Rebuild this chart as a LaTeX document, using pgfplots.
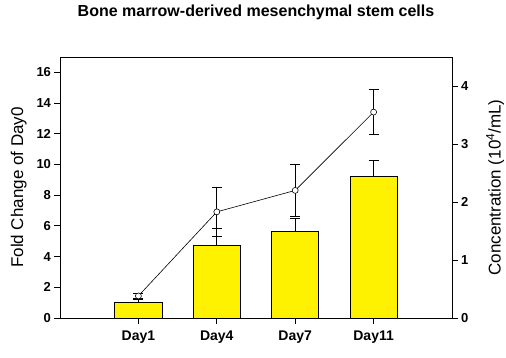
\documentclass[border=0pt]{standalone}
\usepackage{pgfplots}
\pgfplotsset{compat=1.18}
\usepackage{fontspec}
\setmainfont{Liberation Sans}
\begin{document}
\begin{tikzpicture}[x=1pt,y=1pt]
\useasboundingbox (0,0) rectangle (506,357);
\node[font=\bfseries\fontsize{16}{16}\selectfont] at (256,345) {Bone marrow-derived mesenchymal stem cells};
\begin{axis}[
  at={(60pt,39pt)}, anchor=south west, scale only axis,
  width=392pt, height=261pt,
  xmin=0, xmax=5, ymin=0, ymax=17,
  xtick={1,2,3,4}, xticklabels={Day1,Day4,Day7,Day11},
  ytick={0,2,...,16},
  xtick pos=bottom, ytick pos=left, tick align=outside,
  major tick length=5.5pt,
  axis line style={black, line width=0.8pt},
  tick style={black, line width=0.8pt},
  /pgf/number format/assume math mode=true,
  yticklabel style={font=\bfseries\fontsize{13}{13}\selectfont},
  xticklabel style={font=\bfseries\fontsize{14}{14}\selectfont, yshift=-4pt},
  ylabel={Fold Change of Day0},
  ylabel style={font=\fontsize{17}{17}\selectfont, at={(axis description cs:-0.105,0.5)}, anchor=center},
]
\addplot[ybar, bar width=0.6, fill=yellow, draw=black, line width=0.8pt,
  error bars/.cd, y dir=plus, y explicit,
  error bar style={black, line width=0.8pt},
  error mark options={rotate=90, mark size=5pt, black, line width=0.8pt}]
coordinates {
 (1,1.02) +- (0,0.2)
 (2,4.73) +- (0,1.1)
 (3,5.61) +- (0,0.87)
 (4,9.22) +- (0,1.04)
};
\end{axis}
\begin{axis}[
  at={(60pt,39pt)}, anchor=south west, scale only axis,
  width=392pt, height=261pt,
  xmin=0, xmax=5, ymin=0, ymax=4.5,
  axis x line=none, axis y line*=right,
  ytick={0,1,2,3,4}, tick align=outside,
  major tick length=5.5pt,
  axis line style={black, line width=0.8pt},
  tick style={black, line width=0.8pt},
  /pgf/number format/assume math mode=true,
  yticklabel style={font=\bfseries\fontsize{13}{13}\selectfont},
  ylabel={Concentration (10\textsuperscript{4}/mL)},
  ylabel style={font=\fontsize{17}{17}\selectfont, at={(axis description cs:1.11,0.5)}, anchor=center},
]
\addplot[black, line width=0.6pt, mark=*, mark size=3pt,
  mark options={fill=white, draw=black, solid, line width=0.6pt},
  error bars/.cd, y dir=both, y explicit,
  error bar style={black, line width=0.8pt},
  error mark options={rotate=90, mark size=5pt, black, line width=0.8pt}]
coordinates {
 (1,0.38) +- (0,0.05)
 (2,1.83) +- (0,0.43)
 (3,2.20) +- (0,0.45)
 (4,3.55) +- (0,0.39)
};
\end{axis}
\end{tikzpicture}
\end{document}
